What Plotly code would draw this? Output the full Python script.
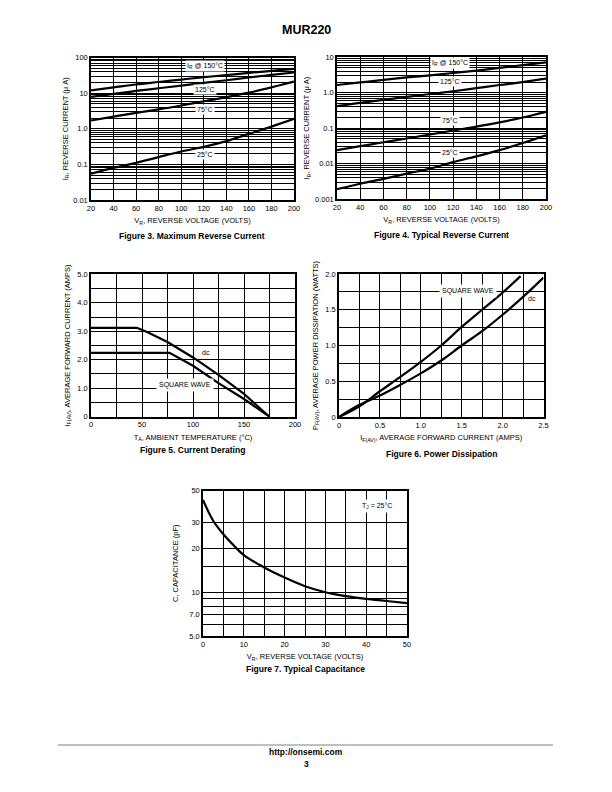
import math
import plotly.graph_objects as go

# page is drawn inside an 8px body margin; work in page pixels and shift
OFF = 8
W, H = 612 - 2 * OFF, 792 - 2 * OFF
FONT = "Liberation Sans Narrow, Liberation Sans, Arial, sans-serif"
BOLD = "Liberation Sans, Arial, sans-serif"

# ---------------- data ----------------
# Figure 3: Maximum reverse current (uA) vs reverse voltage
vr = [20, 40, 60, 80, 100, 120, 140, 160, 180, 200]
max_ir_150 = [12, 14.5, 17.5, 20.5, 24, 28, 32, 37, 42, 48]
max_ir_125 = [7.8, 9.5, 11.5, 13.7, 16.3, 19.5, 23, 27.5, 32.5, 38]
max_ir_75 = [1.7, 2.2, 2.8, 3.5, 4.5, 5.9, 7.7, 10.3, 14.5, 21]
max_ir_25 = [0.055, 0.08, 0.11, 0.16, 0.23, 0.31, 0.45, 0.72, 1.15, 1.9]

# Figure 4: Typical reverse current (uA)
typ_ir_150 = [1.65, 1.95, 2.3, 2.7, 3.1, 3.6, 4.2, 5.0, 6.0, 7.2]
typ_ir_125 = [0.42, 0.52, 0.63, 0.76, 0.92, 1.1, 1.35, 1.65, 2.0, 2.5]
typ_ir_75 = [0.024, 0.031, 0.04, 0.051, 0.066, 0.086, 0.11, 0.145, 0.2, 0.29]
typ_ir_25 = [0.0019, 0.0027, 0.0037, 0.0052, 0.0072, 0.011, 0.016, 0.024, 0.038, 0.063]

# Figure 5: Current derating
ta_dc = [0, 45, 55, 75, 100, 125, 150, 175]
if_dc = [3.12, 3.12, 2.97, 2.62, 2.08, 1.47, 0.80, 0]
ta_sq = [0, 77, 100, 125, 150, 175]
if_sq = [2.24, 2.24, 1.79, 1.18, 0.62, 0]

# Figure 6: Power dissipation
i_sq = [0, 0.25, 0.5, 0.75, 1.0, 1.25, 1.5, 1.75, 2.0, 2.22]
p_sq = [0, 0.15, 0.36, 0.56, 0.77, 1.0, 1.26, 1.5, 1.74, 1.97]
i_dc = [0, 0.25, 0.5, 0.75, 1.0, 1.25, 1.5, 1.75, 2.0, 2.25, 2.5]
p_dc = [0, 0.17, 0.30, 0.45, 0.61, 0.79, 1.0, 1.2, 1.43, 1.68, 1.95]

# Figure 7: Typical capacitance
vr_c = [0, 2.5, 5, 7.5, 10, 15, 20, 25, 30, 35, 40, 45, 50]
cap = [43, 31, 25, 21, 18, 14.8, 12.6, 11, 10, 9.4, 9.0, 8.7, 8.4]

# tick labels
vr_ticks = [20, 40, 60, 80, 100, 120, 140, 160, 180, 200]
vr_labels = [str(v) for v in vr_ticks]
fig3_yvals, fig3_ylabels = [0.01, 0.1, 1, 10, 100], ["0.01", "0.1", "1.0", "10", "100"]
fig4_yvals, fig4_ylabels = [0.001, 0.01, 0.1, 1, 10], ["0.001", "0.01", "0.1", "1.0", "10"]
fig5_xvals, fig5_xlabels = [0, 50, 100, 150, 200], ["0", "50", "100", "150", "200"]
fig5_yvals, fig5_ylabels = [0, 1, 2, 3, 4, 5], ["0", "1.0", "2.0", "3.0", "4.0", "5.0"]
fig6_xvals, fig6_xlabels = [0, 0.5, 1.0, 1.5, 2.0, 2.5], ["0", "0.5", "1.0", "1.5", "2.0", "2.5"]
fig6_yvals, fig6_ylabels = [0, 0.5, 1.0, 1.5, 2.0], ["0", "0.5", "1.0", "1.5", "2.0"]
fig7_xvals, fig7_xlabels = [0, 10, 20, 30, 40, 50], ["0", "10", "20", "30", "40", "50"]
fig7_yvals, fig7_ylabels = [5, 7, 10, 20, 30, 50], ["5.0", "7.0", "10", "20", "30", "50"]
fig7_grid = [5, 6, 7, 8, 9, 10, 15, 20, 30, 50]


def log_grid(lo, hi):
    vals = []
    for e in range(lo, hi):
        for m in range(1, 10):
            vals.append(round(m * 10 ** e, 6))
    vals.append(round(10 ** hi, 6))
    return vals


def lin_grid(lo, hi, step):
    n = int(round((hi - lo) / step))
    return [round(lo + i * step, 6) for i in range(n + 1)]


def xd(px0, px1):
    return [(px0 - OFF) / W, (px1 - OFF) / W]


def yd(py0, py1):
    return [1 - (py1 - OFF) / H, 1 - (py0 - OFF) / H]


fig = go.Figure()
LINE = dict(color="black", width=2.2)

for ys in (max_ir_150, max_ir_125, max_ir_75, max_ir_25):
    fig.add_trace(go.Scatter(x=vr, y=ys, mode="lines", line=dict(shape="spline", **LINE), xaxis="x", yaxis="y"))
for ys in (typ_ir_150, typ_ir_125, typ_ir_75, typ_ir_25):
    fig.add_trace(go.Scatter(x=vr, y=ys, mode="lines", line=dict(shape="spline", **LINE), xaxis="x2", yaxis="y2"))
fig.add_trace(go.Scatter(x=ta_dc, y=if_dc, mode="lines", line=LINE, xaxis="x3", yaxis="y3"))
fig.add_trace(go.Scatter(x=ta_sq, y=if_sq, mode="lines", line=LINE, xaxis="x3", yaxis="y3"))
fig.add_trace(go.Scatter(x=i_sq, y=p_sq, mode="lines", line=dict(shape="spline", **LINE), xaxis="x4", yaxis="y4"))
fig.add_trace(go.Scatter(x=i_dc, y=p_dc, mode="lines", line=dict(shape="spline", **LINE), xaxis="x4", yaxis="y4"))
fig.add_trace(go.Scatter(x=vr_c, y=cap, mode="lines", line=dict(shape="spline", **LINE), xaxis="x5", yaxis="y5"))

tickfont = dict(family=FONT, size=7.5, color="black")
titlefont = dict(family=FONT, size=7.5, color="black")


def axis(domain, anchor, vals, labels, grid, rng, typ="linear", title="", standoff=6):
    return dict(
        domain=domain, anchor=anchor, type=typ, range=rng,
        tickmode="array", tickvals=vals, ticktext=labels,
        ticks="", showgrid=True, gridcolor="black", gridwidth=1,
        minor=dict(tickmode="array", tickvals=grid, showgrid=True, gridcolor="black", gridwidth=1, ticks=""),
        showline=True, linecolor="black", linewidth=1.5, mirror=True,
        zeroline=False, tickfont=tickfont,
        title=dict(text=title, font=titlefont, standoff=standoff),
        automargin=False,
    )


XT_VR = "V<sub>R</sub>, REVERSE VOLTAGE (VOLTS)"
lay = {}
lay["xaxis"] = axis(xd(91, 294), "y", vr_ticks, vr_labels, vr_ticks, [20, 200], title=XT_VR)
lay["yaxis"] = axis(yd(57.5, 200), "x", fig3_yvals, fig3_ylabels, log_grid(-2, 2), [-2, 2], typ="log",
                    title="I<sub>R</sub>, REVERSE CURRENT (μ A)", standoff=4)
lay["xaxis2"] = axis(xd(337, 546), "y2", vr_ticks, vr_labels, vr_ticks, [20, 200], title=XT_VR)
lay["yaxis2"] = axis(yd(57.3, 199), "x2", fig4_yvals, fig4_ylabels, log_grid(-3, 1), [-3, 1], typ="log",
                     title="I<sub>R</sub>, REVERSE CURRENT (μ A)", standoff=4)
lay["xaxis3"] = axis(xd(91, 295), "y3", fig5_xvals, fig5_xlabels, lin_grid(0, 200, 25), [0, 200],
                     title="T<sub>A</sub>, AMBIENT TEMPERATURE (°C)")
lay["yaxis3"] = axis(yd(274.3, 416.7), "x3", fig5_yvals, fig5_ylabels, lin_grid(0, 5, 0.5), [0, 5],
                     title="I<sub>F(AV)</sub>, AVERAGE FORWARD CURRENT (AMPS)", standoff=6)
lay["xaxis4"] = axis(xd(339, 543.5), "y4", fig6_xvals, fig6_xlabels, lin_grid(0, 2.5, 0.25), [0, 2.5],
                     title="I<sub>F(AV)</sub>, AVERAGE FORWARD CURRENT (AMPS)")
lay["yaxis4"] = axis(yd(274, 417), "x4", fig6_yvals, fig6_ylabels, lin_grid(0, 2, 0.25), [0, 2],
                     title="P<sub>F(AV)</sub>, AVERAGE POWER DISSIPATION (WATTS)", standoff=6)
lay["xaxis5"] = axis(xd(203, 407), "y5", fig7_xvals, fig7_xlabels, lin_grid(0, 50, 5), [0, 50], title=XT_VR)
lay["yaxis5"] = axis(yd(490.5, 636), "x5", fig7_yvals, fig7_ylabels, fig7_grid,
                     [math.log10(5), math.log10(50)], typ="log",
                     title="C, CAPACITANCE (pF)", standoff=10)

fig.update_layout(**lay)

ann = []


def lab(text, x, y, xr, yr, bg="white", pad=1):
    ann.append(dict(text=text, x=x, y=y, xref=xr, yref=yr, showarrow=False,
                    font=dict(family=FONT, size=7, color="black"),
                    bgcolor=bg, borderpad=pad))


# curve labels (log axes take log10 positions)
lab("I<sub>R</sub> @ 150°C", 121, 1.76, "x", "y")
lab("125°C", 121, 1.09, "x", "y")
lab("75°C", 121, 0.53, "x", "y")
lab("25°C", 121, -0.71, "x", "y")
lab("I<sub>R</sub> @ 150°C", 117, 0.85, "x2", "y2")
lab("125°C", 117, 0.33, "x2", "y2")
lab("75°C", 117, -0.77, "x2", "y2")
lab("25°C", 117, -1.70, "x2", "y2")
lab("dc", 113, 2.24, "x3", "y3", pad=2)
lab("SQUARE WAVE", 92, 1.13, "x3", "y3", pad=2)
lab("SQUARE WAVE", 1.58, 1.76, "x4", "y4", pad=2)
lab("dc", 2.36, 1.66, "x4", "y4", bg="rgba(0,0,0,0)")
lab("T<sub>J</sub> = 25°C", 42.6, 1.592, "x5", "y5", pad=2)


def ptxt(text, px, py, size, bold=True):
    ann.append(dict(text=("<b>%s</b>" % text) if bold else text,
                    x=(px - OFF) / W, y=1 - (py - OFF) / H,
                    xref="paper", yref="paper", showarrow=False,
                    font=dict(family=BOLD, size=size, color="black"),
                    xanchor="center", yanchor="middle"))


ptxt("MUR220", 306, 30, 12.5)
ptxt("Figure 3. Maximum Reverse Current", 192, 236, 8.5)
ptxt("Figure 4. Typical Reverse Current", 441, 235, 8.5)
ptxt("Figure 5. Current Derating", 192, 450, 8.5)
ptxt("Figure 6. Power Dissipation", 441, 454, 8.5)
ptxt("Figure 7. Typical Capacitance", 305, 669, 8.5)
ptxt("http://onsemi.com", 306, 752, 8.5)
ptxt("3", 306, 764, 8.5)

fig.update_layout(
    annotations=ann,
    shapes=[dict(type="line", xref="paper", yref="paper",
                 x0=(58 - OFF) / W, x1=(553 - OFF) / W,
                 y0=1 - (745 - OFF) / H, y1=1 - (745 - OFF) / H,
                 line=dict(color="#aaaaaa", width=1.5))],
    width=W, height=H, margin=dict(l=0, r=0, t=0, b=0),
    paper_bgcolor="white", plot_bgcolor="white", showlegend=False,
)

fig.write_html("out.html")
